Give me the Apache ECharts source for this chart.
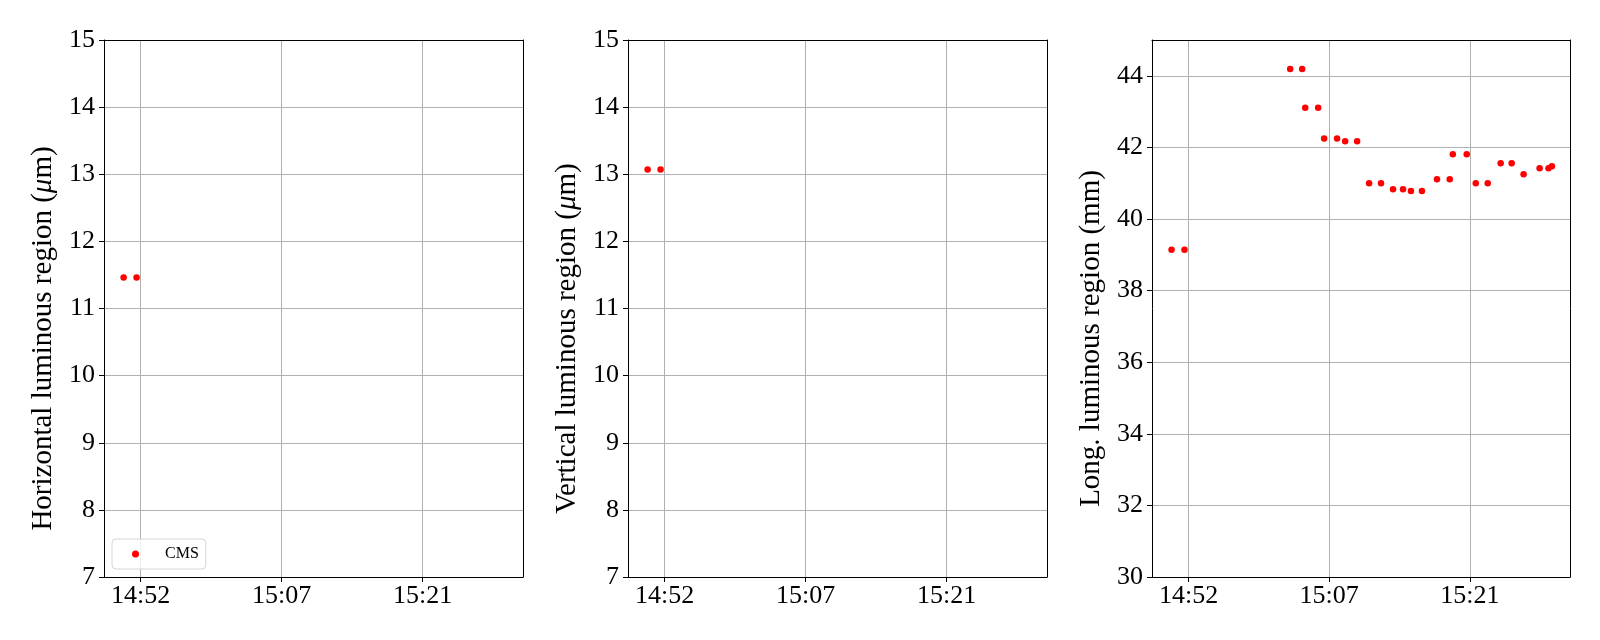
<!DOCTYPE html>
<html>
<head>
<meta charset="utf-8">
<script src="https://cdn.jsdelivr.net/npm/echarts@6/dist/echarts.min.js"></script>
<style>
html,body{margin:0;padding:0;background:#fff;}
#chart{width:1600px;height:640px;}
</style>
</head>
<body>
<div id="chart"></div>
<script>
// ---- data ----
const times = ['14:50:55','14:52:15','15:03:09','15:04:23','15:04:42','15:06:02','15:06:39','15:07:59',
  '15:08:49','15:10:03','15:11:17','15:12:31','15:13:45','15:14:47','15:15:36','15:16:44',
  '15:18:17','15:19:36','15:19:55','15:21:21','15:22:17','15:23:31','15:24:51','15:25:59',
  '15:27:13','15:28:52','15:29:47','15:30:08'];
const horizValues = [11.46, 11.46];
const vertValues = [13.07, 13.07];
const longValues = [39.14, 39.14, 44.19, 44.19, 43.11, 43.11, 42.25, 42.25,
  42.17, 42.17, 41.00, 41.00, 40.83, 40.83, 40.78, 40.78,
  41.11, 41.11, 41.81, 41.81, 41.00, 41.00, 41.56, 41.56,
  41.25, 41.42, 41.42, 41.47];
const xTickTimes = ['14:52:40', '15:07:10', '15:21:40'];
const xTickLabels = ['14:52', '15:07', '15:21'];
const yTicksSmall = [7, 8, 9, 10, 11, 12, 13, 14, 15];
const yTicksLong = [30, 32, 34, 36, 38, 40, 42, 44];
const seriesName = 'CMS';
const yTitles = ['Horizontal luminous region ({i|μ}m)', 'Vertical luminous region ({i|μ}m)', 'Long. luminous region (mm)'];

// minutes after 14:00
function toMin(s) {
  const p = s.split(':').map(Number);
  return (p[0] - 14) * 60 + p[1] + p[2] / 60;
}
const tickMins = xTickTimes.map(toMin);
const X_MIN = 48.9, X_MAX = 92.0;

const FONT = "'Liberation Serif', 'DejaVu Serif', serif";
const lefts = [104, 628, 1152];
const widths = [419, 419, 418];
const TOP = 40, HEIGHT = 537;

const grids = [], xAxes = [], yAxes = [], series = [];
const yRanges = [[7, 15, yTicksSmall], [7, 15, yTicksSmall], [30, 45, yTicksLong]];
const vals = [horizValues, vertValues, longValues];

for (let i = 0; i < 3; i++) {
  grids.push({left: lefts[i], top: TOP, width: widths[i], height: HEIGHT, containLabel: false});
  xAxes.push({
    type: 'value', gridIndex: i, min: X_MIN, max: X_MAX, position: 'bottom',
    axisLine: {show: true, onZero: false, lineStyle: {color: '#000', width: 1}},
    axisTick: {show: true, customValues: tickMins, length: 5, lineStyle: {color: '#000', width: 1}},
    axisLabel: {show: true, customValues: tickMins, margin: 6, color: '#000', fontFamily: FONT, fontSize: 26,
      formatter: function (v) {
        let best = 0, bd = Infinity;
        tickMins.forEach((t, k) => { const d = Math.abs(t - v); if (d < bd) { bd = d; best = k; } });
        return xTickLabels[best];
      }},
    splitLine: {show: true, lineStyle: {color: '#b0b0b0', width: 1}}
  });
  xAxes.push({
    type: 'value', gridIndex: i, min: X_MIN, max: X_MAX, position: 'top', z: 10,
    axisLine: {show: true, onZero: false, lineStyle: {color: '#000', width: 1}},
    axisTick: {show: false}, axisLabel: {show: false}, splitLine: {show: false}
  });
  const [ymin, ymax, yt] = yRanges[i];
  yAxes.push({
    type: 'value', gridIndex: i, min: ymin, max: ymax, position: 'left',
    name: yTitles[i], nameLocation: 'middle', nameGap: 46,
    nameTextStyle: {fontFamily: FONT, fontSize: 29, color: '#000', padding: [0, 60, 0, 0],
      rich: {i: {fontFamily: FONT, fontSize: 29, fontStyle: 'italic', color: '#000'}}},
    axisLine: {show: true, onZero: false, lineStyle: {color: '#000', width: 1}},
    axisTick: {show: true, customValues: yt, length: 5, lineStyle: {color: '#000', width: 1}},
    axisLabel: {show: true, customValues: yt, margin: 9, color: '#000', fontFamily: FONT, fontSize: 26},
    splitLine: {show: true, lineStyle: {color: '#b0b0b0', width: 1}}
  });
  yAxes.push({
    type: 'value', gridIndex: i, min: ymin, max: ymax, position: 'right', z: 10,
    axisLine: {show: true, onZero: false, lineStyle: {color: '#000', width: 1}},
    axisTick: {show: false}, axisLabel: {show: false}, splitLine: {show: false}
  });
  const v = vals[i];
  series.push({
    name: seriesName, type: 'scatter', xAxisIndex: i * 2, yAxisIndex: i * 2,
    symbol: 'circle', symbolSize: 6.5, itemStyle: {color: '#ff0000', opacity: 1},
    data: v.map((y, k) => [toMin(times[k]), y]),
    silent: true, animation: false
  });
}

const chart = echarts.init(document.getElementById('chart'), null, {renderer: 'canvas'});
chart.setOption({
  animation: false,
  backgroundColor: '#ffffff',
  grid: grids,
  xAxis: xAxes,
  yAxis: yAxes,
  legend: {
    data: [{name: seriesName, icon: 'circle', itemStyle: {color: '#ff0000', opacity: 1}}],
    left: 112, top: 539, orient: 'vertical',
    itemWidth: 7, itemHeight: 7,
    padding: [6, 7, 6, 20],
    backgroundColor: 'rgba(255,255,255,0.8)',
    borderColor: '#d6d6d6', borderWidth: 1, borderRadius: 4,
    formatter: function (name) { return '{p|}' + name; },
    textStyle: {fontFamily: FONT, fontSize: 16, color: '#000', lineHeight: 18,
      rich: {p: {width: 21}}},
    selectedMode: false
  },
  series: series
});
</script>
</body>
</html>
